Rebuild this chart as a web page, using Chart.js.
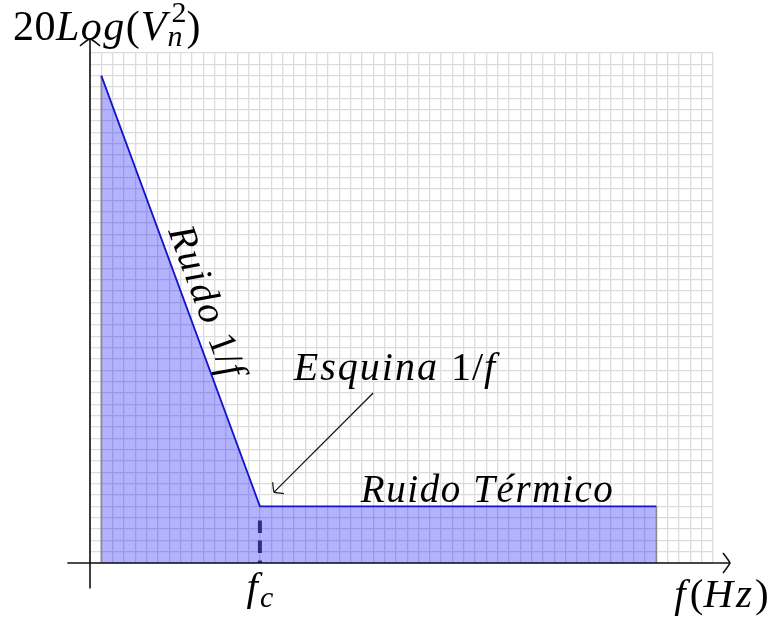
<!DOCTYPE html>
<html lang="es">
  <head>
    <meta charset="UTF-8" />
    <title>Ruido 1/f y ruido térmico</title>
    <style>
      body {
        margin: 0;
        padding: 0;
        background-color: #fff;
      }
      #noiseChart {
        display: block;
      }
    </style>
  </head>
  <body>
    <canvas id="noiseChart" width="778" height="622"></canvas>
    <script src="https://cdn.jsdelivr.net/npm/chart.js"></script>
    <script>
      // noise spectrum outline: 1/f slope down to the corner, then flat thermal floor
      const spectrumX = [0.2, 3, 10];
      const spectrumY = [8.6, 1, 1];
      // closing edges of the shaded area
      const leftEdgeX = [0.2, 0.2];
      const leftEdgeY = [0, 8.6];
      const rightEdgeX = [10, 10];
      const rightEdgeY = [0, 1];
      // dashed marker under the corner frequency
      const cornerGuideX = [3, 3];
      const cornerGuideY = [0.75, 0];
      // annotation arrow pointing at the corner (start, end)
      const cornerArrowX = [5, 3.25];
      const cornerArrowY = [3, 1.25];
      // axis extents (arrows run past the grid)
      const xAxisRange = [-0.4, 11.3];
      const yAxisRange = [-0.45, 9.25];
      const gridMaxX = 11;
      const gridMaxY = 9;

      const labelRuidoTermico = "Ruido Térmico";
      const labelRuido1f = "Ruido";
      const labelEsquina = "Esquina";

      const toPoints = (xs, ys) => xs.map((x, i) => ({ x: x, y: ys[i] }));

      const SERIF = '"Liberation Serif", "DejaVu Serif", serif';

      // writes a run of text pieces left to right, each with its own style
      function drawRuns(ctx, runs, x, y, align) {
        let total = 0;
        const widths = runs.map((r) => {
          ctx.font = (r.italic ? "italic " : "") + r.size + "px " + SERIF;
          ctx.letterSpacing = (r.spacing || 0) + "px";
          const w = r.overlap ? 0 : ctx.measureText(r.t).width + (r.kern || 0);
          total += w;
          return w;
        });
        let cx = align === "center" ? x - total / 2 : x;
        runs.forEach((r, i) => {
          ctx.font = (r.italic ? "italic " : "") + r.size + "px " + SERIF;
          ctx.letterSpacing = (r.spacing || 0) + "px";
          ctx.fillText(r.t, cx + (r.dx || 0), y + (r.dy || 0));
          cx += widths[i];
        });
        ctx.letterSpacing = "0px";
      }

      // TikZ-style curved "to" arrow head, tip at (x, y) pointing along angle
      function arrowHead(ctx, x, y, angle, len, half) {
        ctx.save();
        ctx.translate(x, y);
        ctx.rotate(angle);
        ctx.beginPath();
        ctx.moveTo(-len, -half);
        ctx.quadraticCurveTo(-len * 0.15, -half * 0.25, 0, 0);
        ctx.quadraticCurveTo(-len * 0.15, half * 0.25, -len, half);
        ctx.stroke();
        ctx.restore();
      }

      const diagramPlugin = {
        id: "diagram",
        afterDatasetsDraw(chart) {
          const ctx = chart.ctx;
          const sx = chart.scales.x;
          const sy = chart.scales.y;
          const px = (v) => sx.getPixelForValue(v);
          const py = (v) => sy.getPixelForValue(v);

          ctx.save();
          ctx.strokeStyle = "#111";
          ctx.fillStyle = "#000";
          ctx.lineWidth = 1.6;
          ctx.lineCap = "butt";

          // axes
          const x0 = px(0);
          const y0 = py(0);
          ctx.beginPath();
          ctx.moveTo(px(xAxisRange[0]), y0);
          ctx.lineTo(px(xAxisRange[1]), y0);
          ctx.moveTo(x0, py(yAxisRange[0]));
          ctx.lineTo(x0, py(yAxisRange[1]));
          ctx.stroke();
          arrowHead(ctx, px(xAxisRange[1]), y0, 0, 7, 10);
          arrowHead(ctx, x0, py(yAxisRange[1]), -Math.PI / 2, 7, 10);

          // annotation arrow to the corner
          const ax0 = px(cornerArrowX[0]);
          const ay0 = py(cornerArrowY[0]);
          const ax1 = px(cornerArrowX[1]);
          const ay1 = py(cornerArrowY[1]);
          ctx.lineWidth = 1.2;
          ctx.beginPath();
          ctx.moveTo(ax0, ay0);
          ctx.lineTo(ax1, ay1);
          ctx.stroke();
          arrowHead(ctx, ax1, ay1, Math.atan2(ay1 - ay0, ax1 - ax0), 6, 8);

          ctx.textBaseline = "alphabetic";
          ctx.textAlign = "left";

          // y axis title
          drawRuns(
            ctx,
            [
              { t: "20", size: 42, spacing: 0.5 },
              { t: "Log", size: 42, italic: true, spacing: 1.5 },
              { t: "(", size: 42, kern: 1 },
              { t: "V", size: 42, italic: true, kern: 1 },
              { t: "2", size: 30, dy: -18, dx: 4, overlap: true },
              { t: "n", size: 30, italic: true, dy: 6, kern: 4 },
              { t: ")", size: 42 },
            ],
            px(-1.36),
            py(9.23),
            "left"
          );

          // x axis title
          drawRuns(
            ctx,
            [
              { t: "f", size: 41, italic: true, kern: 4 },
              { t: "(", size: 41 },
              { t: "Hz", size: 41, italic: true, spacing: 3 },
              { t: ")", size: 41 },
            ],
            px(11.15),
            py(-0.78),
            "center"
          );

          // corner frequency
          drawRuns(
            ctx,
            [
              { t: "f", size: 41, italic: true, kern: 2 },
              { t: "c", size: 30, italic: true, dy: 7 },
            ],
            px(cornerGuideX[0]),
            py(-0.66),
            "center"
          );

          // corner label
          drawRuns(
            ctx,
            [
              { t: labelEsquina + " ", size: 40, italic: true, spacing: 2 },
              { t: "1/", size: 40, spacing: 1 },
              { t: "f", size: 40, italic: true },
            ],
            px(5.376),
            py(3.23),
            "center"
          );

          // thermal floor label
          drawRuns(
            ctx,
            [{ t: labelRuidoTermico, size: 39, italic: true, spacing: 1.6 }],
            px(7.02),
            py(1.08),
            "center"
          );

          // 1/f label laid along the slope
          const sx0 = px(spectrumX[0]);
          const sy0 = py(spectrumY[0]);
          const sx1 = px(spectrumX[1]);
          const sy1 = py(spectrumY[1]);
          const ang = Math.atan2(sy1 - sy0, sx1 - sx0);
          const t = 0.54;
          const off = 9;
          const mx = sx0 + (sx1 - sx0) * t + Math.sin(ang) * off;
          const my = sy0 + (sy1 - sy0) * t - Math.cos(ang) * off;
          ctx.save();
          ctx.translate(mx, my);
          ctx.rotate(ang);
          drawRuns(
            ctx,
            [
              { t: labelRuido1f + " ", size: 39, italic: true, spacing: 2 },
              { t: "1/", size: 39, spacing: 1 },
              { t: "f", size: 39, italic: true },
            ],
            0,
            0,
            "center"
          );
          ctx.restore();

          ctx.restore();
        },
      };

      const ctx = document.getElementById("noiseChart").getContext("2d");
      new Chart(ctx, {
        type: "scatter",
        data: {
          datasets: [
            {
              label: "área",
              data: toPoints(spectrumX, spectrumY),
              showLine: true,
              fill: "origin",
              backgroundColor: "rgba(0, 0, 255, 0.3)",
              borderWidth: 0,
              pointRadius: 0,
              order: 5,
            },
            {
              label: "borde izq",
              data: toPoints(leftEdgeX, leftEdgeY),
              showLine: true,
              borderColor: "#8a8a8a",
              borderWidth: 1.6,
              pointRadius: 0,
              order: 4,
            },
            {
              label: "borde der",
              data: toPoints(rightEdgeX, rightEdgeY),
              showLine: true,
              borderColor: "#8a8a8a",
              borderWidth: 1.6,
              pointRadius: 0,
              order: 4,
            },
            {
              label: "fc",
              data: toPoints(cornerGuideX, cornerGuideY),
              showLine: true,
              borderColor: "#2f2f80",
              borderWidth: 4,
              borderDash: [12.6, 7.4],
              pointRadius: 0,
              order: 3,
            },
            {
              label: "espectro",
              data: toPoints(spectrumX, spectrumY),
              showLine: true,
              borderColor: "#1414c8",
              borderWidth: 1.8,
              pointRadius: 0,
              order: 1,
            },
          ],
        },
        options: {
          responsive: false,
          animation: false,
          events: [],
          layout: {
            padding: { left: 90, right: 65, top: 53, bottom: 59 },
          },
          plugins: {
            legend: { display: false },
            tooltip: { enabled: false },
          },
          scales: {
            x: {
              type: "linear",
              min: 0,
              max: gridMaxX,
              ticks: { display: false, stepSize: 0.2 },
              grid: { color: "#dcdcdc", lineWidth: 1.3, drawTicks: false },
              border: { display: false },
            },
            y: {
              type: "linear",
              min: 0,
              max: gridMaxY,
              ticks: { display: false, stepSize: 0.2 },
              grid: { color: "#dcdcdc", lineWidth: 1.3, drawTicks: false },
              border: { display: false },
            },
          },
        },
        plugins: [diagramPlugin],
      });
    </script>
  </body>
</html>
